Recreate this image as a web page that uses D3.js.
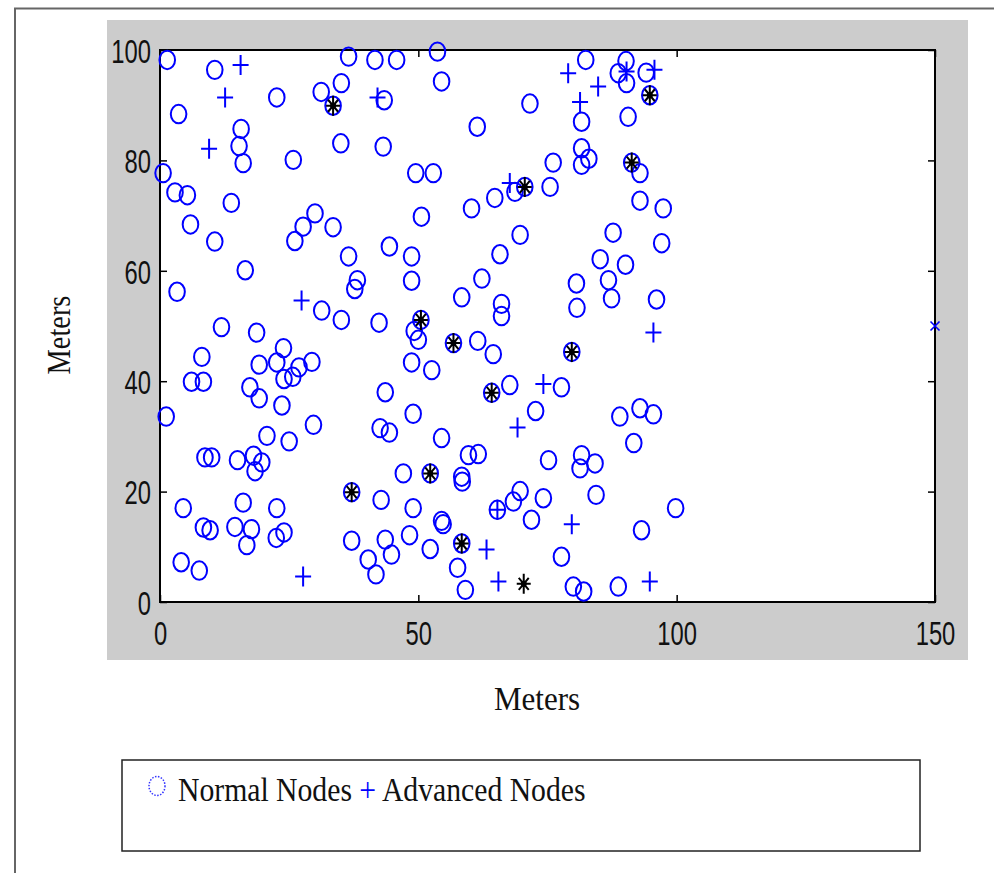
<!DOCTYPE html>
<html>
<head>
<meta charset="utf-8">
<script src="https://cdn.jsdelivr.net/npm/d3@7"></script>
<style>
  html, body { margin: 0; padding: 0; background: #fff; }
  svg { display: block; }
</style>
</head>
<body>
<svg id="chart" width="994" height="873"></svg>
<script>
// ---------- DATA ----------
const xTicks = [0, 50, 100, 150];
const yTicks = [0, 20, 40, 60, 80, 100];

// Normal nodes (circles)
const normalNodes = [
  [1.4,98.2],[10.6,96.4],[22.6,91.4],[31.2,92.4],[3.6,88.4],[15.7,85.7],[15.3,82.6],[16.1,79.5],
  [25.8,80.1],[0.6,77.7],[2.9,74.2],[5.3,73.7],[13.8,72.3],[30.0,70.4],[33.5,67.9],[27.7,68.0],
  [26.1,65.4],[5.9,68.4],[10.6,65.3],[16.5,60.1],[3.3,56.2],[31.3,52.8],[36.5,98.8],[41.6,98.2],
  [45.8,98.2],[53.7,99.7],[54.5,94.3],[35.1,94.0],[43.4,90.9],[35.0,83.1],[43.2,82.5],[61.4,86.1],
  [49.5,77.7],[52.9,77.7],[60.3,71.3],[64.8,73.2],[50.6,69.8],[44.4,64.4],[36.5,62.6],[48.7,62.6],
  [48.7,58.2],[38.2,58.3],[37.7,56.7],[62.3,58.6],[65.8,63.0],[58.4,55.2],[66.1,54.0],[66.1,51.8],
  [35.1,51.1],[42.4,50.6],[82.4,98.2],[90.2,98.0],[88.7,95.8],[90.3,94.0],[94.1,95.9],[71.6,90.3],
  [81.6,87.0],[90.6,87.9],[81.6,82.2],[83.0,80.3],[81.6,79.2],[92.9,77.7],[92.9,72.7],[97.4,71.3],
  [76.1,79.6],[75.5,75.2],[68.7,74.3],[69.7,66.5],[87.7,66.9],[97.1,65.0],[85.2,62.1],[90.1,61.1],
  [86.8,58.3],[80.6,57.7],[87.4,55.0],[80.7,53.3],[96.1,54.8],
  [11.9,49.8],[18.7,48.8],[23.9,46.0],[8.1,44.4],[19.2,43.0],[22.6,43.4],[29.4,43.5],[26.9,42.5],
  [24.0,40.4],[25.7,40.8],[6.1,39.9],[8.4,39.9],[17.4,38.9],[19.2,36.9],[23.6,35.6],[1.2,33.6],
  [29.7,32.1],[20.7,30.1],[25.0,29.1],[8.7,26.2],[10.0,26.2],[15.0,25.7],[18.1,26.5],[19.7,25.3],
  [18.4,23.7],[4.5,17.0],[16.1,18.0],[22.6,17.0],[8.4,13.5],[9.7,13.0],[14.5,13.6],[17.7,13.2],
  [16.8,10.3],[22.5,11.6],[24.0,12.6],[4.1,7.2],[7.6,5.7],
  [49.2,49.1],[50.0,47.5],[48.7,43.4],[52.6,42.0],[61.5,47.3],[64.5,44.9],[67.7,39.3],[43.6,38.0],
  [49.0,34.1],[42.6,31.5],[44.4,30.7],[54.5,29.7],[59.7,26.6],[61.6,26.8],[58.4,22.7],[58.5,21.8],
  [47.1,23.3],[42.8,18.5],[49.0,17.0],[65.3,16.7],[54.5,14.7],[54.8,14.1],[48.3,12.1],[37.1,11.1],
  [43.6,11.3],[44.8,8.6],[40.3,7.7],[41.8,5.0],[52.3,9.6],[57.6,6.2],[59.1,2.2],
  [77.7,38.9],[72.7,34.6],[89.0,33.6],[92.9,35.1],[95.5,34.0],[91.7,28.8],[75.2,25.7],[81.6,26.6],
  [81.3,24.2],[84.2,25.1],[84.4,19.4],[69.7,20.1],[68.4,18.2],[74.2,18.8],[71.9,14.9],[99.8,17.0],
  [93.2,13.0],[77.7,8.2],[80.0,2.8],[82.0,1.9],[88.7,2.8]
];

// Advanced nodes (plus signs)
const advancedNodes = [
  [15.6,97.3],[12.6,91.4],[9.5,82.1],[42.1,91.4],[67.7,75.9],[27.4,54.6],[79.0,95.8],[84.8,93.4],
  [81.3,90.6],[90.3,96.1],[95.7,96.4],[95.5,48.8],[27.7,4.6],[65.3,16.7],[63.2,9.5],[65.5,3.7],
  [74.2,39.5],[69.2,31.6],[79.7,14.1],[94.8,3.7]
];

// Cluster heads (black stars); third value 1 = a normal node lies under the star
const clusterHeads = [
  [33.5,89.9,1],[94.8,91.8,1],[91.3,79.6,1],[70.6,75.2,1],[50.5,51.1,1],[56.8,46.9,1],
  [64.2,37.9,1],[79.7,45.3,1],[52.3,23.3,1],[37.1,19.9,1],[58.4,10.6,1],[70.4,3.3,0]
];

// Base station (sink)
const sinkNode = [[150, 50]];

const legendLabels = ["Normal Nodes", "Advanced Nodes"];

// ---------- DRAWING ----------
const svg = d3.select("#chart");
const blue = "#0000ff";

// outer frame lines
svg.append("path")
  .attr("d", "M15,873 L15,8.5 L994,8.5")
  .attr("fill", "none").attr("stroke", "#666").attr("stroke-width", 2);

// gray figure panel
svg.append("rect").attr("x", 107).attr("y", 20).attr("width", 861).attr("height", 640)
  .attr("fill", "#cccccc");

const x = d3.scaleLinear().domain([0, 150]).range([160, 935]);
const y = d3.scaleLinear().domain([0, 100]).range([602, 50]);

// plot area
svg.append("rect")
  .attr("x", x(0)).attr("y", y(100))
  .attr("width", x(150) - x(0)).attr("height", y(0) - y(100))
  .attr("fill", "#fff");

const tickFont = "'Liberation Sans', Arial, sans-serif";
const tsx = 0.7;

function styleAxis(g) {
  g.select(".domain").remove();
  g.selectAll(".tick line").attr("stroke", "#000").attr("stroke-width", 1.5);
  g.selectAll("text").attr("fill", "#111").style("font-family", tickFont).style("font-size", "34px");
}

// bottom axis
const gx = svg.append("g").attr("transform", `translate(0,${y(0)})`)
  .call(d3.axisBottom(x).tickValues(xTicks).tickFormat(d3.format("d")).tickSize(-7).tickSizeOuter(0));
styleAxis(gx);
gx.selectAll("text").attr("y", 43).attr("dy", 0).attr("transform", `scale(${tsx},1)`);

// top axis ticks
const gxt = svg.append("g").attr("transform", `translate(0,${y(100)})`)
  .call(d3.axisTop(x).tickValues(xTicks).tickSize(-7).tickSizeOuter(0).tickFormat(""));
styleAxis(gxt);

// left axis
const gy = svg.append("g").attr("transform", `translate(${x(0)},0)`)
  .call(d3.axisLeft(y).tickValues(yTicks).tickFormat(d3.format("d")).tickSize(-7).tickSizeOuter(0));
styleAxis(gy);
gy.selectAll("text").attr("x", -9 / tsx).attr("dy", "0.36em").attr("transform", `scale(${tsx},1)`);

// right axis ticks
const gyr = svg.append("g").attr("transform", `translate(${x(150)},0)`)
  .call(d3.axisRight(y).tickValues(yTicks).tickSize(-7).tickSizeOuter(0).tickFormat(""));
styleAxis(gyr);

// box
svg.append("rect")
  .attr("x", x(0)).attr("y", y(100))
  .attr("width", x(150) - x(0)).attr("height", y(0) - y(100))
  .attr("fill", "none").attr("stroke", "#000").attr("stroke-width", 2);

// axis titles
const titleFont = "'Liberation Serif', 'Times New Roman', serif";
svg.append("text").attr("transform", `translate(537,710) scale(0.94,1)`)
  .attr("text-anchor", "middle").style("font-family", titleFont).style("font-size", "33px")
  .attr("fill", "#111").text("Meters");
svg.append("text").attr("transform", `translate(70,335) rotate(-90) scale(0.86,1)`)
  .attr("text-anchor", "middle").style("font-family", titleFont).style("font-size", "33px")
  .attr("fill", "#111").text("Meters");

const plot = svg.append("g");
const rx = 7.8, ry = 9.2;

// normal nodes
plot.selectAll("ellipse.normal").data(normalNodes).join("ellipse")
  .attr("class", "normal")
  .attr("cx", d => x(d[0])).attr("cy", d => y(d[1]))
  .attr("rx", rx).attr("ry", ry)
  .attr("fill", "none").attr("stroke", blue).attr("stroke-width", 2);

// circles under cluster heads
plot.selectAll("ellipse.chbase").data(clusterHeads.filter(d => d[2] === 1)).join("ellipse")
  .attr("class", "chbase")
  .attr("cx", d => x(d[0])).attr("cy", d => y(d[1]))
  .attr("rx", rx).attr("ry", ry)
  .attr("fill", "none").attr("stroke", blue).attr("stroke-width", 2);

// advanced nodes
const ph = 8, pv = 10;
plot.selectAll("path.adv").data(advancedNodes).join("path")
  .attr("class", "adv")
  .attr("d", d => {
    const cx = x(d[0]), cy = y(d[1]);
    return `M${cx - ph},${cy} H${cx + ph} M${cx},${cy - pv} V${cy + pv}`;
  })
  .attr("stroke", blue).attr("stroke-width", 2).attr("fill", "none");

// cluster heads (stars)
plot.selectAll("path.ch").data(clusterHeads).join("path")
  .attr("class", "ch")
  .attr("d", d => {
    const cx = x(d[0]), cy = y(d[1]);
    const h = 7, v = 10, dh = 5, dv = 6;
    return `M${cx - h},${cy} H${cx + h} M${cx},${cy - v} V${cy + v} ` +
           `M${cx - dh},${cy - dv} L${cx + dh},${cy + dv} M${cx - dh},${cy + dv} L${cx + dh},${cy - dv}`;
  })
  .attr("stroke", "#000").attr("stroke-width", 2).attr("fill", "none");
plot.selectAll("circle.chdot").data(clusterHeads).join("circle")
  .attr("class", "chdot")
  .attr("cx", d => x(d[0])).attr("cy", d => y(d[1])).attr("r", 3).attr("fill", "#000");

// sink
plot.selectAll("path.sink").data(sinkNode).join("path")
  .attr("class", "sink")
  .attr("d", d => {
    const cx = x(d[0]), cy = y(d[1]);
    const s = 4.5;
    return `M${cx - s},${cy - s} L${cx + s},${cy + s} M${cx - s},${cy + s} L${cx + s},${cy - s}`;
  })
  .attr("stroke", blue).attr("stroke-width", 1.6).attr("fill", "none");

// legend
svg.append("rect").attr("x", 122).attr("y", 760).attr("width", 798).attr("height", 91)
  .attr("fill", "#fff").attr("stroke", "#222").attr("stroke-width", 1.5);
svg.append("ellipse").attr("cx", 157).attr("cy", 786).attr("rx", 8).attr("ry", 9.5)
  .attr("fill", "none").attr("stroke", "#3333ff").attr("stroke-width", 1.5)
  .attr("stroke-dasharray", "1.5,1.5");
const legT = svg.append("text").attr("transform", "translate(178,801) scale(0.9,1)")
  .style("font-family", titleFont).style("font-size", "33px").attr("fill", "#111");
legT.append("tspan").text(legendLabels[0] + " ");
legT.append("tspan").attr("fill", blue).text("+");
legT.append("tspan").text(" " + legendLabels[1]);
</script>
</body>
</html>
